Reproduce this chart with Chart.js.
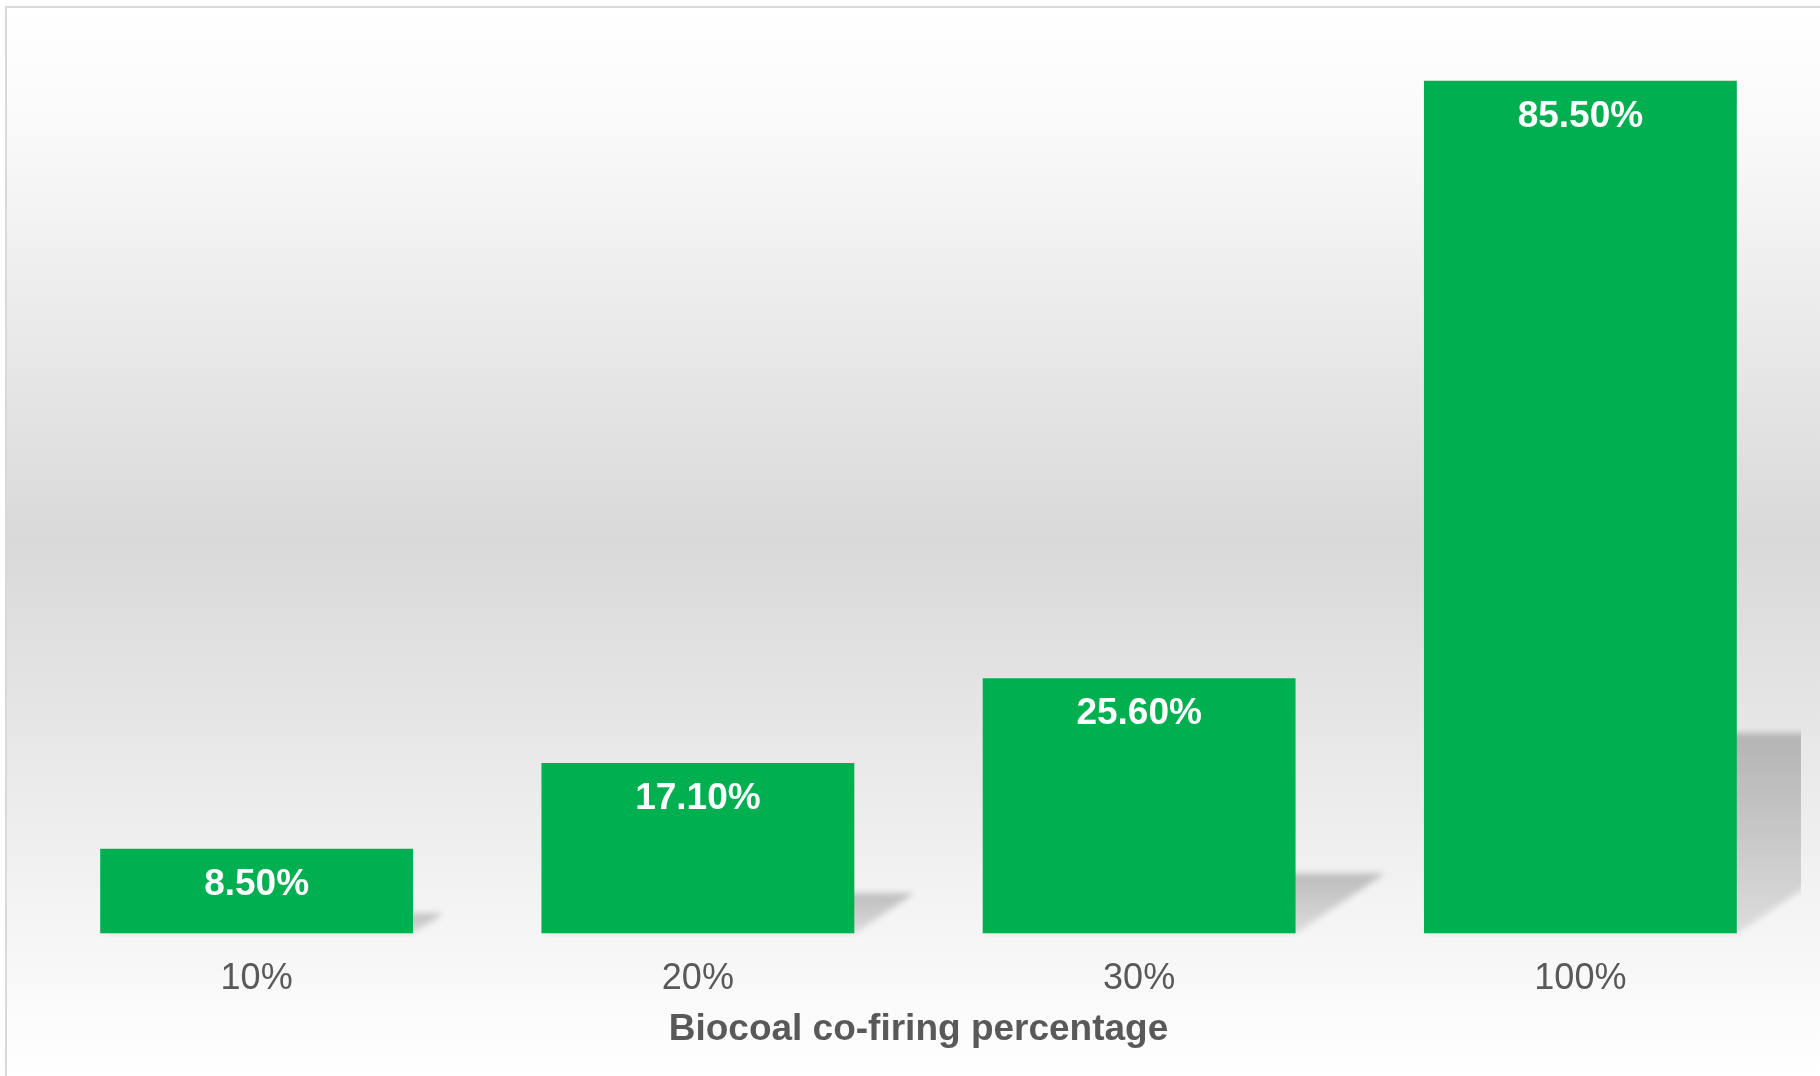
<!DOCTYPE html>
<html lang="en">
<head>
    <meta charset="UTF-8">
    <title>Biocoal co-firing</title>
    <script src="https://cdn.jsdelivr.net/npm/chart.js"></script>
    <style>
        html, body { margin: 0; padding: 0; background: #fff; }
        #wrap { width: 1820px; height: 1076px; }
    </style>
</head>
<body>
    <div id="wrap"><canvas id="chartBiocoal" width="1820" height="1076"></canvas></div>

    <script>
        // datos
        const categorias = ['10%', '20%', '30%', '100%'];
        const valores = [8.5, 17.1, 25.6, 85.5];
        const tituloEje = 'Biocoal co-firing percentage';

        const verde = '#00B050';
        const gris = '#595959';
        const fuente = '"Liberation Sans", Arial, sans-serif';

        // fondo degradado con marco
        const fondo = {
            id: 'fondo',
            beforeDraw(chart) {
                const ctx = chart.ctx;
                ctx.save();
                ctx.fillStyle = '#ffffff';
                ctx.fillRect(0, 0, chart.width, chart.height);
                const g = ctx.createLinearGradient(0, 7, 0, chart.height);
                g.addColorStop(0, '#ffffff');
                g.addColorStop(0.12, '#f9f9f9');
                g.addColorStop(0.5, '#d9d9d9');
                g.addColorStop(0.82, '#f2f2f2');
                g.addColorStop(1, '#ffffff');
                ctx.fillStyle = g;
                ctx.fillRect(6, 7, chart.width - 6, chart.height - 7);
                ctx.strokeStyle = '#d9d9d9';
                ctx.lineWidth = 2;
                ctx.beginPath();
                ctx.moveTo(6, chart.height);
                ctx.lineTo(6, 7);
                ctx.lineTo(chart.width, 7);
                ctx.stroke();
                ctx.restore();
            }
        };

        // sombra en perspectiva detras de cada barra
        const sombras = {
            id: 'sombras',
            beforeDatasetsDraw(chart) {
                const ctx = chart.ctx;
                const area = chart.chartArea;
                ctx.save();
                ctx.beginPath();
                ctx.rect(area.left, area.top, area.right - area.left, area.bottom - area.top + 4);
                ctx.clip();
                ctx.filter = 'blur(3px)';
                chart.getDatasetMeta(0).data.forEach(bar => {
                    const xl = bar.x - bar.width / 2;
                    const xr = bar.x + bar.width / 2;
                    const h = bar.base - bar.y;
                    const hk = h * 0.235;
                    const dx = hk * 1.49;
                    const g = ctx.createLinearGradient(0, bar.base - hk, 0, bar.base);
                    g.addColorStop(0, 'rgba(0,0,0,0.22)');
                    g.addColorStop(1, 'rgba(0,0,0,0.10)');
                    ctx.fillStyle = g;
                    ctx.beginPath();
                    ctx.moveTo(xl, bar.base);
                    ctx.lineTo(xr, bar.base);
                    ctx.lineTo(xr + dx, bar.base - hk);
                    ctx.lineTo(xl + dx, bar.base - hk);
                    ctx.closePath();
                    ctx.fill();
                });
                ctx.restore();
            }
        };

        // etiquetas de valor dentro de las barras
        const etiquetas = {
            id: 'etiquetas',
            afterDatasetsDraw(chart) {
                const ctx = chart.ctx;
                ctx.save();
                ctx.fillStyle = '#ffffff';
                ctx.font = 'bold 37px ' + fuente;
                ctx.textAlign = 'center';
                ctx.textBaseline = 'middle';
                chart.getDatasetMeta(0).data.forEach((bar, i) => {
                    ctx.fillText(valores[i].toFixed(2) + '%', bar.x, bar.y + 36);
                });
                ctx.restore();
            }
        };

        new Chart(document.getElementById('chartBiocoal'), {
            type: 'bar',
            data: {
                labels: categorias,
                datasets: [{
                    data: valores,
                    backgroundColor: verde,
                    borderWidth: 0,
                    categoryPercentage: 1,
                    barPercentage: 0.709
                }]
            },
            options: {
                responsive: false,
                animation: false,
                layout: { padding: { left: 36, right: 19, top: 36, bottom: 24 } },
                plugins: {
                    legend: { display: false },
                    tooltip: { enabled: false }
                },
                scales: {
                    x: {
                        grid: { display: false, drawTicks: false },
                        border: { display: false },
                        ticks: {
                            color: gris,
                            font: { family: fuente, size: 36 },
                            padding: 24
                        },
                        title: {
                            display: true,
                            text: tituloEje,
                            color: gris,
                            font: { family: fuente, size: 37, weight: 'bold' },
                            padding: { top: -17, bottom: 0 }
                        }
                    },
                    y: {
                        display: false,
                        min: 0,
                        max: 90
                    }
                }
            },
            plugins: [fondo, sombras, etiquetas]
        });
    </script>
</body>
</html>
